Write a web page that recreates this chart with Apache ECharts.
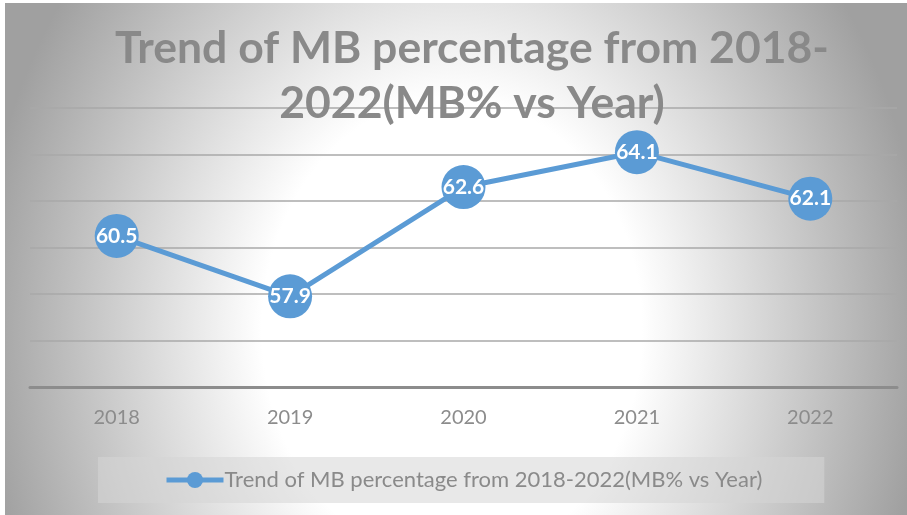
<!DOCTYPE html>
<html>
  <head>
    <meta charset="utf-8" />
    <title>Trend of MB percentage</title>
    <script src="https://cdn.jsdelivr.net/npm/echarts@6/dist/echarts.min.js"></script>
    <style>
      html, body { margin: 0; padding: 0; background: #fff; }
      #main { width: 907px; height: 515px; }
    </style>
  </head>
  <body>
    <div id="main"></div>
    <script>
      // 数据
      var years = ['2018', '2019', '2020', '2021', '2022']
      var mbPercent = [60.5, 57.9, 62.6, 64.1, 62.1]
      var seriesName = 'Trend of MB percentage from 2018-2022(MB% vs Year)'

      // 背景渐变的椭圆参数
      var cx = 452, cy = 330, rh = 475, rv = 580
      var sx = rh / 100, sy = rv / 100

      var myChart = echarts.init(document.getElementById('main'))
      var option = {
        backgroundColor: '#ffffff',
        textStyle: { fontFamily: 'Lato' },
        graphic: [
          {
            type: 'rect',
            z: -100,
            silent: true,
            x: cx,
            y: cy,
            scaleX: sx,
            scaleY: sy,
            shape: {
              x: (5 - cx) / sx,
              y: (3 - cy) / sy,
              width: 902 / sx,
              height: 512 / sy
            },
            style: {
              fill: {
                type: 'radial',
                x: 0,
                y: 0,
                r: 100,
                global: true,
                colorStops: [
                  { offset: 0, color: '#ffffff' },
                  { offset: 0.4, color: '#ffffff' },
                  { offset: 1, color: '#a0a0a0' }
                ]
              }
            }
          }
        ],
        title: {
          text: 'Trend of MB percentage from 2018-\n2022(MB% vs Year)',
          left: 467,
          textAlign: 'center',
          top: 16,
          textStyle: {
            fontFamily: 'Lato',
            fontWeight: 'bold',
            fontSize: 44.5,
            lineHeight: 55,
            color: '#898989'
          }
        },
        legend: {
          left: 98,
          top: 457,
          padding: [12, 62, 12, 66],
          backgroundColor: 'rgba(214,214,214,0.55)',
          itemWidth: 57,
          itemHeight: 20,
          lineStyle: { width: 5 },
          data: [seriesName],
          textStyle: { fontFamily: 'Lato', fontSize: 22, color: '#8a8a8a', padding: [0, 0, 0, -4] }
        },
        grid: { left: 30, right: 10, top: 108, bottom: 128 },
        xAxis: {
          type: 'category',
          data: years,
          axisLine: { lineStyle: { color: '#8c8c8c', width: 3 } },
          axisTick: { show: false },
          axisLabel: { fontFamily: 'Lato', fontSize: 20, color: '#8c8c8c', margin: 21 }
        },
        yAxis: {
          type: 'value',
          min: 54,
          max: 66,
          interval: 2,
          axisLabel: { show: false },
          axisLine: { show: false },
          axisTick: { show: false },
          splitLine: { lineStyle: { color: '#a8a8a8', width: 1.5 } }
        },
        series: [
          {
            name: seriesName,
            type: 'line',
            data: mbPercent,
            symbol: 'circle',
            symbolSize: 44,
            itemStyle: { color: '#5b9bd5' },
            lineStyle: { color: '#5b9bd5', width: 5 },
            label: {
              show: true,
              position: 'inside',
              color: '#ffffff',
              fontFamily: 'Lato',
              fontWeight: 'bold',
              fontSize: 21
            }
          }
        ]
      }
      myChart.setOption(option)
    </script>
  </body>
</html>
